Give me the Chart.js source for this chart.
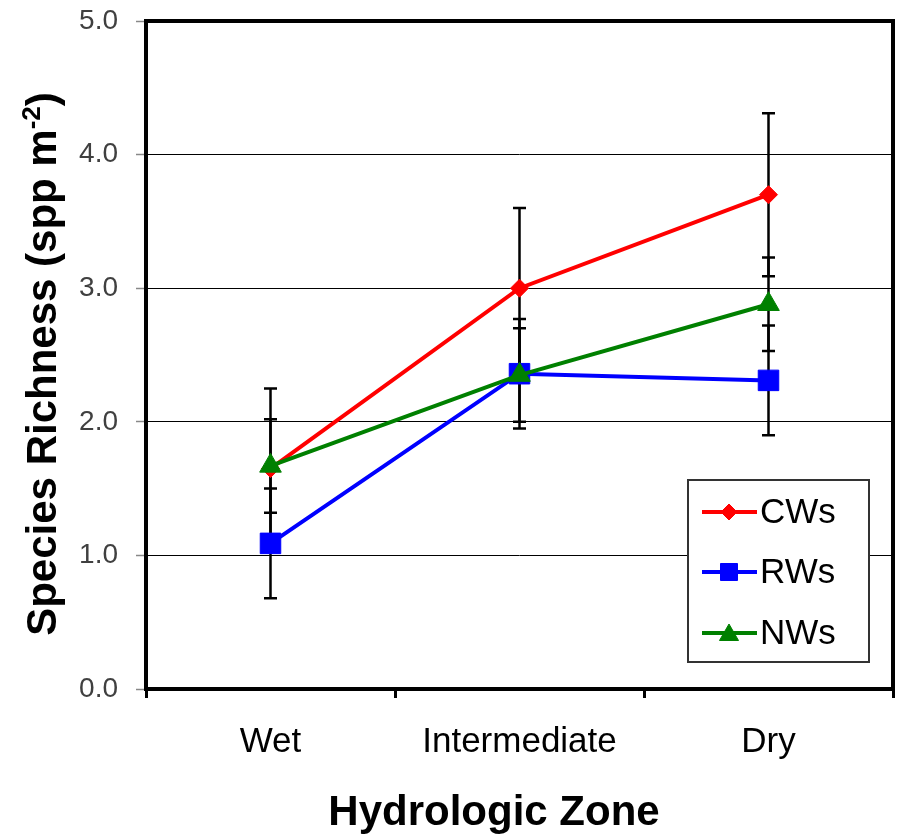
<!DOCTYPE html>
<html>
<head>
<meta charset="utf-8">
<script src="https://cdn.jsdelivr.net/npm/chart.js@4"></script>
<style>
  html, body { margin: 0; padding: 0; background: #fff; }
  #wrap { width: 904px; height: 839px; position: relative; }
</style>
</head>
<body>
<div id="wrap"><canvas id="chart"></canvas></div>
<script>
// data
const zones = ['Wet', 'Intermediate', 'Dry'];
const cwMean = [1.65, 3.00, 3.70];
const cwErr  = [0.60, 0.60, 0.61];
const rwMean = [1.09, 2.36, 2.31];
const rwErr  = [0.41, 0.41, 0.41];
const nwMean = [1.67, 2.35, 2.88];
const nwErr  = [0.35, 0.35, 0.35];
const yTicks = [0, 1, 2, 3, 4, 5];

const FONT = "'Liberation Sans', Arial, sans-serif";

// error bars, drawn under the lines/markers
const errorBars = {
  id: 'errorBars',
  beforeDatasetsDraw(chart) {
    const ctx = chart.ctx;
    const y = chart.scales.y;
    ctx.save();
    ctx.strokeStyle = '#000';
    ctx.lineWidth = 2.5;
    chart.data.datasets.forEach((ds, di) => {
      const meta = chart.getDatasetMeta(di);
      ds.data.forEach((v, i) => {
        const x = meta.data[i].x;
        const top = y.getPixelForValue(v + ds.errors[i]);
        const bot = y.getPixelForValue(v - ds.errors[i]);
        ctx.beginPath();
        ctx.moveTo(x, top); ctx.lineTo(x, bot);
        ctx.moveTo(x - 6.5, top); ctx.lineTo(x + 6.5, top);
        ctx.moveTo(x - 6.5, bot); ctx.lineTo(x + 6.5, bot);
        ctx.stroke();
      });
    });
    // plot frame
    const a = chart.chartArea;
    ctx.lineWidth = 4;
    ctx.strokeRect(a.left, a.top, a.right - a.left, a.bottom - a.top);
    ctx.restore();
  }
};

// legend box inside the plot
const boxLegend = {
  id: 'boxLegend',
  afterDatasetsDraw(chart) {
    const ctx = chart.ctx;
    ctx.save();
    ctx.fillStyle = '#fff';
    ctx.strokeStyle = '#333';
    ctx.lineWidth = 2;
    ctx.fillRect(688, 480, 181, 182);
    ctx.strokeRect(688, 480, 181, 182);
    const rows = [512, 572, 633];
    chart.data.datasets.forEach((ds, i) => {
      const yy = rows[i];
      ctx.strokeStyle = ds.borderColor;
      ctx.lineWidth = 4;
      ctx.beginPath();
      ctx.moveTo(702, yy); ctx.lineTo(757, yy);
      ctx.stroke();
      ctx.fillStyle = ds.borderColor;
      ctx.lineWidth = 1;
      Chart.helpers.drawPoint(ctx, {
        pointStyle: ds.pointStyle,
        radius: ds.legendRadius,
        rotation: 0,
        borderWidth: 1
      }, 729, ds.pointStyle === 'triangle' ? yy + 2 : yy);
      ctx.fillStyle = '#000';
      ctx.font = '35px ' + FONT;
      ctx.textBaseline = 'middle';
      ctx.textAlign = 'left';
      ctx.fillText(ds.label, 760, yy + 1);
    });
    ctx.restore();
  }
};

// axis titles (y title needs a superscript)
const axisTitles = {
  id: 'axisTitles',
  afterDraw(chart) {
    const ctx = chart.ctx;
    ctx.save();
    ctx.fillStyle = '#000';
    ctx.textBaseline = 'alphabetic';
    ctx.textAlign = 'center';
    ctx.font = 'bold 42px ' + FONT;
    ctx.fillText('Hydrologic Zone', 494, 825);

    const main = 'Species Richness (spp m';
    const sup = '-2';
    const end = ')';
    const bigF = 'bold 42px ' + FONT;
    const supF = 'bold 26px ' + FONT;
    ctx.font = bigF;
    const w1 = ctx.measureText(main).width;
    const w3 = ctx.measureText(end).width;
    ctx.font = supF;
    const w2 = ctx.measureText(sup).width;
    const total = w1 + w2 + w3;
    ctx.translate(56, 364);
    ctx.rotate(-Math.PI / 2);
    ctx.textAlign = 'left';
    let x0 = -total / 2;
    ctx.font = bigF;
    ctx.fillText(main, x0, 0);
    ctx.font = supF;
    ctx.fillText(sup, x0 + w1, -16);
    ctx.font = bigF;
    ctx.fillText(end, x0 + w1 + w2, 0);
    ctx.restore();
  }
};

new Chart(document.getElementById('chart'), {
  type: 'line',
  data: {
    labels: zones,
    datasets: [
      {
        label: 'CWs', data: cwMean, errors: cwErr,
        borderColor: '#ff0000', backgroundColor: '#ff0000',
        pointStyle: 'rectRot', pointRadius: 9, legendRadius: 8,
        borderWidth: 4, pointBorderWidth: 1, order: 3
      },
      {
        label: 'RWs', data: rwMean, errors: rwErr,
        borderColor: '#0000ff', backgroundColor: '#0000ff',
        pointStyle: 'rect', pointRadius: 14.5, legendRadius: 12,
        borderWidth: 4, pointBorderWidth: 1, order: 2
      },
      {
        label: 'NWs', data: nwMean, errors: nwErr,
        borderColor: '#008000', backgroundColor: '#008000',
        pointStyle: 'triangle', pointRadius: 12.5, legendRadius: 11,
        borderWidth: 4, pointBorderWidth: 1, order: 1
      }
    ]
  },
  options: {
    responsive: true,
    maintainAspectRatio: false,
    animation: false,
    layout: { autoPadding: false, padding: { top: 21, right: 11, left: 0, bottom: 0 } },
    elements: { line: { tension: 0 } },
    plugins: {
      legend: { display: false },
      tooltip: { enabled: false }
    },
    scales: {
      x: {
        offset: true,
        border: { display: false },
        grid: {
          offset: true, drawOnChartArea: false,
          drawTicks: true, tickLength: 9, tickColor: '#000', tickWidth: 3
        },
        ticks: {
          color: '#000', padding: 23,
          font: { family: FONT, size: 35 }, maxRotation: 0
        },
        afterFit(scale) {
          scale.height = 150;
          scale.paddingLeft = 0; scale.paddingRight = 0;
        }
      },
      y: {
        min: 0, max: 5,
        border: { display: false },
        afterBuildTicks(scale) { scale.ticks = yTicks.map(v => ({ value: v })); },
        grid: {
          color: '#000', lineWidth: 1,
          drawTicks: true, tickLength: 10, tickColor: '#888', tickWidth: 1.5
        },
        ticks: {
          color: '#404040', padding: 18,
          font: { family: FONT, size: 28 },
          callback: v => Number(v).toFixed(1)
        },
        afterFit(scale) {
          scale.width = 146;
          scale.paddingTop = 0; scale.paddingBottom = 0;
        }
      }
    }
  },
  plugins: [errorBars, boxLegend, axisTitles]
});
</script>
</body>
</html>
